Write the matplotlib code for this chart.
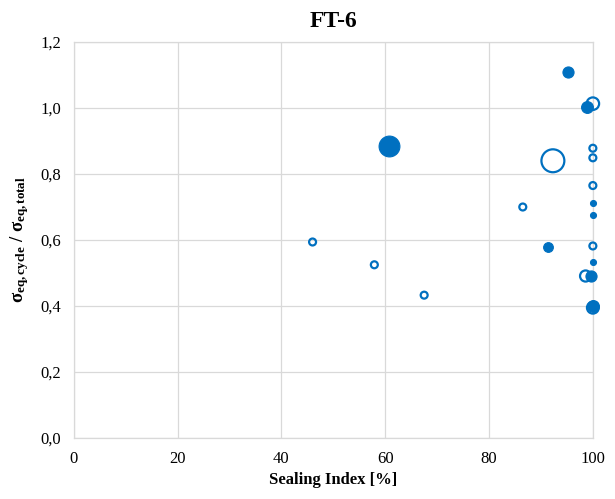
import numpy as np
import matplotlib
matplotlib.use('Agg')
import matplotlib.pyplot as plt
from matplotlib.ticker import FuncFormatter, MultipleLocator

# sealing index [%], stress ratio, bubble diameter [pt], filled (1) or hollow (0)
sealing_index = [46.0, 57.9, 67.5, 86.5, 100.0, 100.0, 100.0, 100.0, 92.3, 98.6,
                 60.7, 95.2, 98.8, 91.4, 100.0, 100.0, 100.0, 99.6, 100.0, 100.0, 100.0]
stress_ratio  = [0.594, 0.525, 0.433, 0.700, 0.878, 0.849, 0.765, 0.582, 0.840, 0.491,
                 0.885, 1.109, 1.003, 0.580, 0.711, 0.675, 0.532, 0.491, 0.400, 1.013, 0.395]
bubble_size   = [5, 5, 5, 5, 5, 5, 5, 5, 16.5, 8,
                 15, 8, 8.5, 7, 4.3, 4.3, 4.3, 8, 8.5, 9, 8.5]
filled        = [0, 0, 0, 0, 0, 0, 0, 0, 0, 0,
                 1, 1, 1, 1, 1, 1, 1, 1, 1, 0, 0]

blue = '#0070C0'
grid_col = '#d9d9d9'

plt.rcParams['font.family'] = ['Liberation Serif', 'DejaVu Serif']
plt.rcParams['mathtext.fontset'] = 'custom'
plt.rcParams['mathtext.rm'] = 'Liberation Serif'
plt.rcParams['mathtext.it'] = 'Liberation Serif:italic'
plt.rcParams['mathtext.bf'] = 'Liberation Serif:bold'

fig = plt.figure(figsize=(6.15, 4.99), dpi=100)
ax = fig.add_axes([0.120, 0.122, 0.844, 0.794])

for xi, yi, d, f in zip(sealing_index, stress_ratio, bubble_size, filled):
    if f:
        ax.scatter(xi, yi, s=d**2, color=blue, edgecolors=blue, linewidths=0.8,
                   zorder=3, clip_on=False)
    else:
        ax.scatter(xi, yi, s=d**2, facecolors='none', edgecolors=blue, linewidths=1.6,
                   zorder=4, clip_on=False)

ax.set_xlim(0, 100)
ax.set_ylim(0, 1.2)
ax.xaxis.set_major_locator(MultipleLocator(20))
ax.yaxis.set_major_locator(MultipleLocator(0.2))
ax.yaxis.set_major_formatter(FuncFormatter(lambda v, p: ('%.1f' % v).replace('.', ',')))
ax.xaxis.set_major_formatter(FuncFormatter(lambda v, p: '%d' % round(v)))
ax.tick_params(length=0, labelsize=12, pad=9)
ax.grid(True, color=grid_col, linewidth=0.9)
ax.set_axisbelow(True)
for sp in ax.spines.values():
    sp.set_color(grid_col)
    sp.set_linewidth(0.9)

ax.set_title('FT-6', fontsize=17, fontweight='bold', pad=11)
ax.set_xlabel('Sealing Index [%]', fontsize=12, fontweight='bold', labelpad=4)
ax.set_ylabel(r'$\mathbf{\sigma_{eq,cycle}\ /\ \sigma_{eq,total}}$', fontsize=13.5, labelpad=7)

plt.savefig('out.png', dpi=100)
